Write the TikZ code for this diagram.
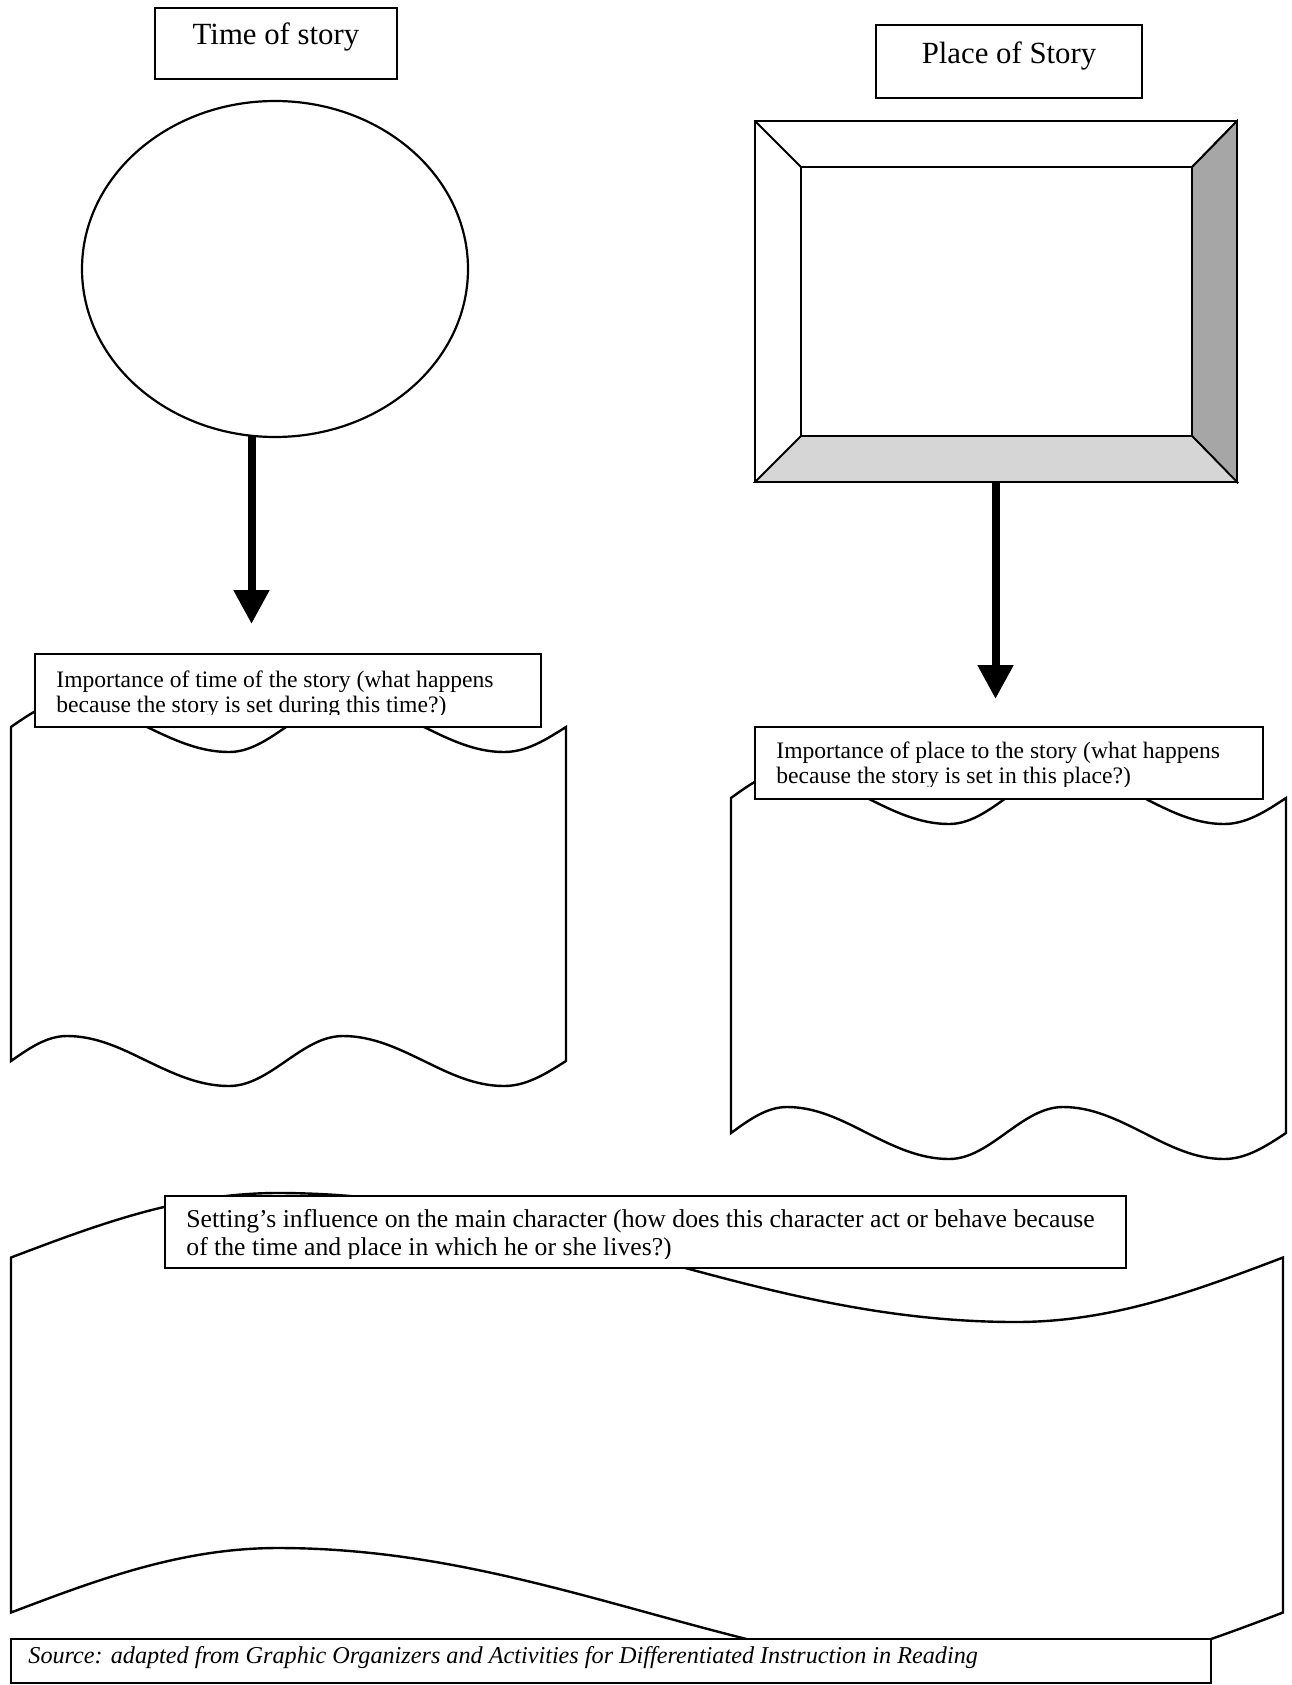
\documentclass[tikz,border=0pt]{standalone}
\usepackage{fontspec}
\setmainfont{Liberation Serif}
\usetikzlibrary{arrows.meta,fit,calc,shapes.geometric}
\definecolor{bevelDark}{HTML}{A6A6A6}
\definecolor{bevelLight}{HTML}{D6D6D6}
\begin{document}
\begin{tikzpicture}[x=0.5pt,y=-0.5pt,
  shapeline/.style={draw=black, line width=1.2pt, fill=white},
  lblbox/.style={draw=black, line width=1.3pt, fill=white, inner sep=0pt},
  bigarrow/.style={line width=4pt, -{Triangle[width=17pt,length=17pt]}},
  titletext/.style={inner sep=0pt, anchor=base, font=\fontsize{15.4}{17}\selectfont},
  lbltext/.style={inner sep=0pt, anchor=base west, font=\fontsize{11.8}{12.5}\selectfont},
  bigtext/.style={inner sep=0pt, anchor=base west, font=\fontsize{12.85}{14}\selectfont},
  srctext/.style={inner sep=0pt, anchor=base west, font=\fontsize{12.1}{13}\selectfont\itshape}]
\useasboundingbox (0,0) rectangle (1291,1685);
\fill[white] (0,0) rectangle (1291,1685);

% ---- Time of story ----
\coordinate (tA) at (155,8);
\coordinate (tB) at (397,79);
\node[lblbox, fit=(tA)(tB)] (timebox) {};
\node[titletext] (timetxt) at (276,45) {Time of story};
\node[draw, ellipse, line width=1.1pt, minimum width=193pt, minimum height=168pt, inner sep=0pt] (timecirc) at (275,269) {};

% ---- Place of story ----
\coordinate (pA) at (876,25);
\coordinate (pB) at (1142,98);
\node[lblbox, fit=(pA)(pB)] (placebox) {};
\node[titletext] (placetxt) at (1009,64) {Place of Story};

% ---- picture frame ----
\coordinate (fo1) at (755,121);
\coordinate (fo2) at (1237,482);
\coordinate (fi1) at (801,167);
\coordinate (fi2) at (1192,436);
\node[fit=(fo1)(fo2), inner sep=0pt] (frame) {};
\fill[white] (fo1) rectangle (fo2);
\filldraw[fill=bevelDark, line width=0.9pt, line join=miter] (fo1 -| fo2) -- (fo2) -- (fi2) -- (fi1 -| fi2) -- cycle;
\filldraw[fill=bevelLight, line width=0.9pt, line join=miter] (fo1 |- fo2) -- (fo2) -- (fi2) -- (fi1 |- fi2) -- cycle;
\draw[line width=0.9pt] (fo1) -- (fi1);
\draw[line width=0.9pt] (fo1 -| fo2) -- (fi1 -| fi2);
\draw[line width=0.9pt] (fi1) rectangle (fi2);
\draw[line width=1.1pt] (fo1) rectangle (fo2);

% ---- arrows ----
\coordinate (tipL) at (251.5,624);
\coordinate (tipR) at (995.5,699);
\draw[bigarrow] ($(timecirc.south -| tipL)+(0,-3)$) -- (tipL);
\draw[bigarrow] (frame.south -| tipR) -- (tipR);

% ---- left scroll ----
\draw[shapeline] (11,727) sin (67,702) cos (147,727) sin (229,752) cos (286,727) sin (343,702) cos (424,727) sin (504,752) cos (566,727)
  -- (566,1061) sin (504,1086) cos (424,1061) sin (343,1036) cos (286,1061) sin (229,1086) cos (147,1061) sin (67,1036) cos (11,1061) -- cycle;
\coordinate (lA) at (35,654);
\coordinate (lB) at (541,727);
\node[lblbox, fit=(lA)(lB)] (timeimp) {};
\begin{scope}
  \clip (35,654) rectangle (541,714);
  \node[lbltext] (timeimp1) at (56,687) {Importance of time of the story (what happens};
  \node[lbltext] (timeimp2) at (56,712) {because the story is set during this time?)};
\end{scope}

% ---- right scroll ----
\draw[shapeline] (731,798) sin (787,772) cos (867,798) sin (949,824) cos (1006,798) sin (1063,772) cos (1144,798) sin (1224,824) cos (1286,798)
  -- (1286,1133) sin (1224,1159) cos (1144,1133) sin (1063,1107) cos (1006,1133) sin (949,1159) cos (867,1133) sin (787,1107) cos (731,1133) -- cycle;
\coordinate (rA) at (755,727);
\coordinate (rB) at (1263,799);
\node[lblbox, fit=(rA)(rB)] (placeimp) {};
\begin{scope}
  \clip (755,727) rectangle (1263,786);
  \node[lbltext] (placeimp1) at (776,758) {Importance of place to the story (what happens};
  \node[lbltext] (placeimp2) at (776,783) {because the story is set in this place?)};
\end{scope}

% ---- big scroll ----
\draw[shapeline] (11,1257.5) sin (278,1193) cos (647,1257.5) sin (1016,1322) cos (1283,1257.5)
  -- (1283,1612.5) sin (1016,1677) cos (647,1612.5) sin (278,1548) cos (11,1612.5) -- cycle;
\coordinate (bA) at (165,1196);
\coordinate (bB) at (1126,1268);
\node[lblbox, fit=(bA)(bB)] (influence) {};
\begin{scope}
  \clip (165,1196) rectangle (1126,1258);
  \node[bigtext] (influence1) at (186,1227) {Setting’s influence on the main character (how does this character act or behave because};
  \node[bigtext] (influence2) at (186,1255) {of the time and place in which he or she lives?)};
\end{scope}

% ---- source ----
\coordinate (sA) at (11,1639);
\coordinate (sB) at (1211,1683);
\node[lblbox, fit=(sA)(sB)] (source) {};
\begin{scope}
  \clip (11,1639) rectangle (1211,1671);
  \node[srctext] (sourcetxt) at (28,1663) {Source: adapted from Graphic Organizers and Activities for Differentiated Instruction in Reading};
\end{scope}
\end{tikzpicture}
\end{document}
